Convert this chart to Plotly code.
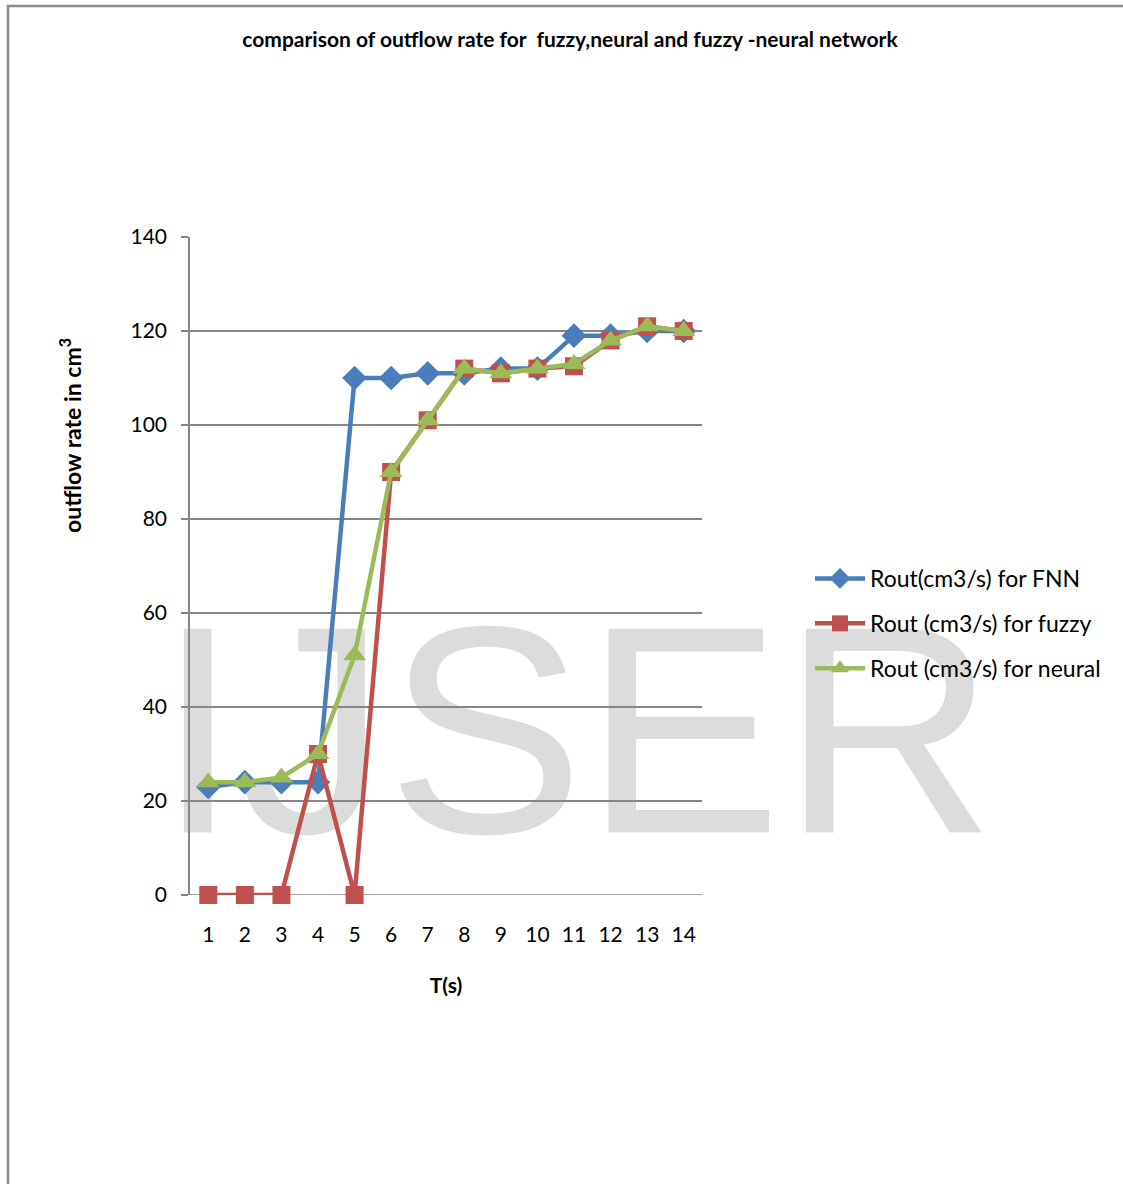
import plotly.graph_objects as go

# Time steps (s)
t = list(range(1, 15))
tick_text = [str(v) for v in t]

# Outflow rate (cm3/s) for each controller
rout_fnn = [23, 24, 24, 24, 110, 110, 111, 111, 112, 112, 119, 119, 120, 120]
rout_fuzzy = [0, 0, 0, 30, 0, 90, 101, 112, 111, 112, 112.5, 118, 121, 120]
rout_neural = [24, 24, 25, 30, 51, 90, 101, 112, 111, 112, 113, 118, 121, 120]

y_ticks = [0, 20, 40, 60, 80, 100, 120, 140]

BLUE = "#4A7EBB"
RED = "#C0504D"
GREEN = "#9BBB59"
GRID = "#868686"
FONT = "Lato"

fig = go.Figure()

fig.add_trace(go.Scatter(
    x=t, y=rout_fnn, mode="lines+markers", name="Rout(cm3/s) for FNN",
    line=dict(color=BLUE, width=4.5),
    marker=dict(symbol="diamond", size=19, color=BLUE),
    legendgroup="a", cliponaxis=False,
))
fig.add_trace(go.Scatter(
    x=t, y=rout_fuzzy, mode="lines+markers", name="Rout (cm3/s) for fuzzy",
    line=dict(color=RED, width=4.5),
    marker=dict(symbol="square", size=18, color=RED),
    legendgroup="b", cliponaxis=False,
))
fig.add_trace(go.Scatter(
    x=t, y=rout_neural, mode="lines+markers", name="Rout (cm3/s) for neural",
    line=dict(color=GREEN, width=4.5),
    marker=dict(symbol="triangle-up", size=20, color=GREEN),
    legendgroup="c", cliponaxis=False,
))

# plot area spans x 190..702 px and y 237..895 px
PX_W, PX_H = 512, 658


def px_x(px):
    return (px - 190) / PX_W


def px_y(py):
    return (895 - py) / PX_H


shapes = [
    # watermark behind the plot
    dict(type="rect", xref="paper", yref="paper",
         x0=px_x(576) - 1.1, x1=px_x(576) + 1.1,
         y0=px_y(702) - 0.18, y1=px_y(702) + 0.18,
         line=dict(width=0), fillcolor="rgba(0,0,0,0)", layer="below",
         label=dict(text="IJSER", textposition="middle center",
                    font=dict(family="Liberation Sans", size=296, color="#DCDCDC"))),
    # chart frame (left and top edges)
    dict(type="line", xref="paper", yref="paper",
         x0=px_x(8), x1=px_x(8), y0=px_y(5), y1=px_y(1190),
         line=dict(color="#8C8C8C", width=2.5), layer="above"),
    dict(type="line", xref="paper", yref="paper",
         x0=px_x(7), x1=px_x(1130), y0=px_y(6), y1=px_y(6),
         line=dict(color="#8C8C8C", width=2.5), layer="above"),
    # x axis line, extending slightly left of the y axis
    dict(type="line", xref="paper", yref="y", x0=px_x(183), x1=1, y0=0, y1=0,
         line=dict(color=GRID, width=1.5), layer="below"),
]

annotations = [
    dict(text="<b>outflow rate in cm<sup>3</sup></b>", textangle=-90,
         xref="paper", yref="paper", x=px_x(70), y=px_y(436),
         xanchor="center", yanchor="middle", showarrow=False,
         font=dict(family=FONT, size=23, color="black")),
]

fig.update_layout(
    width=1123, height=1184,
    margin=dict(l=190, r=421, t=237, b=289),
    paper_bgcolor="white", plot_bgcolor="rgba(0,0,0,0)",
    font=dict(family=FONT, size=21, color="black"),
    title=dict(
        text="<b>comparison of outflow rate for  fuzzy,neural and fuzzy -neural network</b>",
        x=px_x(570), xref="paper", xanchor="center", y=1 - 40 / 1184, yanchor="middle",
        font=dict(family=FONT, size=21, color="black"),
    ),
    xaxis=dict(
        range=[0.5, 14.5], tickmode="array", tickvals=t, ticktext=tick_text,
        showgrid=False, zeroline=False, showline=False, ticks="",
        ticklabelstandoff=25,
        title=dict(text="<b>T(s)</b>", font=dict(family=FONT, size=21), standoff=33),
    ),
    yaxis=dict(
        range=[0, 140], tickmode="array", tickvals=y_ticks,
        showgrid=True, gridcolor=GRID, gridwidth=1.5,
        zeroline=False, showline=True, linecolor=GRID, linewidth=1.5,
        ticks="outside", ticklen=7, tickcolor=GRID, tickwidth=1.5,
        ticklabelstandoff=10,
    ),
    legend=dict(
        x=810 / 1123, xref="container", xanchor="left",
        y=1 - 557 / 1184, yref="container", yanchor="top",
        bgcolor="rgba(0,0,0,0)", traceorder="grouped", tracegroupgap=12,
        itemwidth=50, font=dict(family=FONT, size=23),
    ),
    shapes=shapes,
    annotations=annotations,
)

fig.write_html("out.html")
